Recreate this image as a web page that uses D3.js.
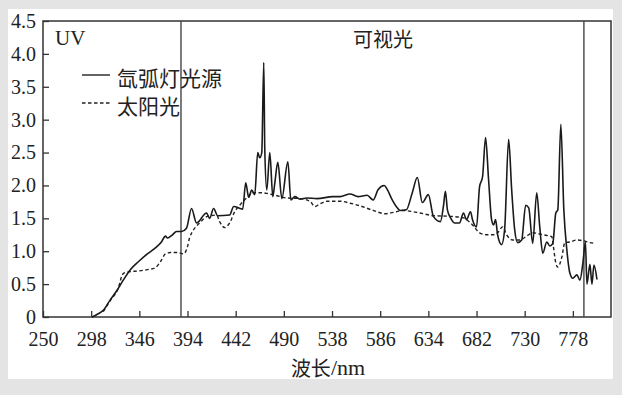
<!DOCTYPE html>
<html>
<head>
<meta charset="utf-8">
<script src="https://cdn.jsdelivr.net/npm/d3@7"></script>
<style>
  html, body { margin: 0; padding: 0; background: #e4e4e4; }
  svg { display: block; }
  text { fill: #222; }
</style>
</head>
<body>
<div id="chart"></div>
<script>
// 氙弧灯光源 (solid)
const xenonWl  = [299, 305, 310, 317, 324, 330, 337, 345, 354, 362, 368, 372, 374, 379, 383, 388, 393, 398, 403,
  413, 416, 420, 424, 436, 440, 449, 452, 455, 458, 461, 464, 466, 468, 470, 471, 473, 476, 479, 481, 484, 488,
  494, 497, 501, 506, 513, 523, 539, 546, 556, 564, 573, 579, 584, 590, 593, 598, 603, 606, 612, 618, 623, 628,
  634, 639, 646, 649, 651, 653, 656, 660, 665, 669, 672, 676, 678, 682, 685, 688, 691, 694, 697, 699, 701, 703,
  707, 710, 714, 717, 720, 723, 727, 731, 734, 738, 742, 745, 748, 752, 755, 758, 761, 763, 766, 769, 772, 775,
  778, 782, 785, 788, 790.5, 792, 795, 797, 799, 802];
const xenonVal = [0, 0.05, 0.1, 0.26, 0.41, 0.56, 0.72, 0.84, 0.96, 1.05, 1.14, 1.23, 1.2, 1.25, 1.3, 1.3, 1.35, 1.65, 1.43,
  1.58, 1.5, 1.65, 1.54, 1.55, 1.68, 1.64, 2.04, 1.82, 1.93, 1.86, 2.5, 2.42, 2.5, 3.87, 2.55, 1.93, 2.5, 1.83, 2.04, 2.35, 1.8,
  2.36, 1.78, 1.83, 1.79, 1.81, 1.8, 1.83, 1.83, 1.87, 1.83, 1.85, 1.78, 1.94, 2.0, 1.94, 1.78, 1.66, 1.62, 1.63, 1.89, 2.12, 1.74,
  1.86, 1.53, 1.45, 1.68, 1.91, 1.63, 1.51, 1.43, 1.43, 1.58, 1.48, 1.6, 1.48, 1.37, 1.98, 2.13, 2.73, 2.09, 1.48, 1.4, 1.48, 1.25,
  1.1, 1.33, 2.7, 1.94, 1.33, 1.13, 1.17, 1.7, 1.66, 1.12, 1.89, 1.37, 0.97, 1.14, 1.08, 1.12, 1.58, 1.63, 2.93, 1.63, 1.02, 0.67,
  0.59, 0.64, 0.56, 0.82, 1.14, 0.5, 0.8, 0.5, 0.79, 0.57];

// 太阳光 (dashed)
const sunWl  = [310, 317, 325, 329, 331, 337, 345, 354, 362, 367, 372, 377, 384, 390, 394, 396, 399, 404, 406, 414,
  423, 426, 431, 436, 441, 446, 453, 459, 466, 473, 479, 493, 506, 516, 521, 526, 533, 546, 556, 566, 579, 591,
  599, 609, 619, 629, 639, 656, 668, 678, 685, 692, 698, 703, 708, 712, 718, 725, 732, 738, 748, 757, 758.6, 761,
  763, 767, 770, 775, 782, 788, 795, 800];
const sunVal = [0.08, 0.25, 0.44, 0.64, 0.67, 0.69, 0.7, 0.72, 0.75, 0.84, 0.96, 0.98, 0.98, 0.96, 1.07, 1.2, 1.3, 1.4, 1.43, 1.53,
  1.55, 1.45, 1.36, 1.43, 1.6, 1.7, 1.81, 1.89, 1.89, 1.88, 1.86, 1.81, 1.8, 1.76, 1.68, 1.72, 1.76, 1.76, 1.73, 1.69, 1.62, 1.57,
  1.59, 1.62, 1.6, 1.57, 1.54, 1.53, 1.51, 1.4, 1.28, 1.25, 1.25, 1.28, 1.37, 1.25, 1.17, 1.17, 1.23, 1.28, 1.25, 1.22, 1.07, 0.82,
  0.76, 0.91, 1.13, 1.14, 1.17, 1.16, 1.13, 1.12];

const xTicks = [250, 298, 346, 394, 442, 490, 538, 586, 634, 682, 730, 778];
const yTicks = [0, 0.5, 1.0, 1.5, 2.0, 2.5, 3.0, 3.5, 4.0, 4.5];
const bounds = [387.5, 789];   // UV | 可视光 | 红外

const W = 622, H = 395;
const margin = {left: 43, right: 11, top: 21, bottom: 78};

const svg = d3.select("#chart").append("svg")
    .attr("width", W)
    .attr("height", H);

// panel
svg.append("rect").attr("x", 0).attr("y", 0).attr("width", W).attr("height", H).attr("fill", "#e4e4e4");
svg.append("rect").attr("x", 8).attr("y", 9).attr("width", 605).attr("height", 370).attr("fill", "#fff");

const x = d3.scaleLinear().domain([250, 816]).range([margin.left, W - margin.right]);
const y = d3.scaleLinear().domain([0, 4.5]).range([H - margin.bottom, margin.top]);

const serif = "'Liberation Serif', 'Times New Roman', 'Noto Sans CJK SC', serif";
const cjk = "'Noto Sans CJK SC', 'Liberation Serif', sans-serif";

// axes with inward ticks
const xAxis = svg.append("g")
    .attr("transform", `translate(0,${y(0)})`)
    .call(d3.axisBottom(x).tickValues(xTicks).tickSizeInner(-6).tickSizeOuter(0).tickFormat(d3.format("d")));
xAxis.select(".domain").remove();
xAxis.selectAll("line").attr("stroke", "#333").attr("stroke-width", 1.3);
xAxis.selectAll("text")
    .attr("y", 29).attr("dy", null)
    .style("font-family", serif).style("font-size", "20px").attr("fill", "#222");

const yAxis = svg.append("g")
    .attr("transform", `translate(${x(250)},0)`)
    .call(d3.axisLeft(y).tickValues(yTicks).tickSizeInner(-6).tickSizeOuter(0)
      .tickFormat(d => d === 0 ? "0" : d3.format(".1f")(d)));
yAxis.select(".domain").remove();
yAxis.selectAll("line").attr("stroke", "#333").attr("stroke-width", 1.3);
yAxis.selectAll("text")
    .attr("x", -7)
    .style("font-family", serif).style("font-size", "20px").attr("fill", "#222");

// frame
svg.append("rect")
    .attr("x", x(250)).attr("y", y(4.5))
    .attr("width", x(816) - x(250)).attr("height", y(0) - y(4.5))
    .attr("fill", "none").attr("stroke", "#333").attr("stroke-width", 1.5);

// region boundaries
svg.selectAll(".bound").data(bounds).join("line")
    .attr("x1", d => x(d)).attr("x2", d => x(d))
    .attr("y1", y(4.5)).attr("y2", y(0))
    .attr("stroke", "#444").attr("stroke-width", 1.4);

// curves
const line = d3.line()
    .x(d => x(d[0]))
    .y(d => y(d[1]))
    .curve(d3.curveMonotoneX);

svg.append("path")
    .datum(sunWl.map((w, i) => [w, sunVal[i]]))
    .attr("d", line)
    .attr("fill", "none").attr("stroke", "#222").attr("stroke-width", 1.4)
    .attr("stroke-dasharray", "3.5,2.5");

svg.append("path")
    .datum(xenonWl.map((w, i) => [w, xenonVal[i]]))
    .attr("d", line)
    .attr("fill", "none").attr("stroke", "#1a1a1a").attr("stroke-width", 1.6)
    .attr("stroke-linejoin", "round");

// region labels
svg.append("text").attr("x", 55).attr("y", 45)
    .style("font-family", serif).style("font-size", "21px").text("UV");
svg.append("text").attr("x", 353).attr("y", 38).attr("dominant-baseline", "central")
    .style("font-family", cjk).style("font-size", "20px").text("可视光");

// legend
const legend = [{label: "氙弧灯光源", dash: null, ly: 75}, {label: "太阳光", dash: "3.5,2.5", ly: 103}];
legend.forEach(d => {
  svg.append("line")
      .attr("x1", 82).attr("x2", 110).attr("y1", d.ly).attr("y2", d.ly)
      .attr("stroke", "#222").attr("stroke-width", 1.4)
      .attr("stroke-dasharray", d.dash);
  svg.append("text").attr("x", 117).attr("y", d.ly + 2).attr("dominant-baseline", "central")
      .style("font-family", cjk).style("font-size", "21px").text(d.label);
});

// x axis title
const xt = svg.append("text").attr("x", 328).attr("y", 367).attr("text-anchor", "middle")
    .attr("dominant-baseline", "central")
    .style("font-size", "20px");
xt.append("tspan").style("font-family", cjk).text("波长");
xt.append("tspan").style("font-family", serif).style("font-size", "22px").text("/nm");
</script>
</body>
</html>
